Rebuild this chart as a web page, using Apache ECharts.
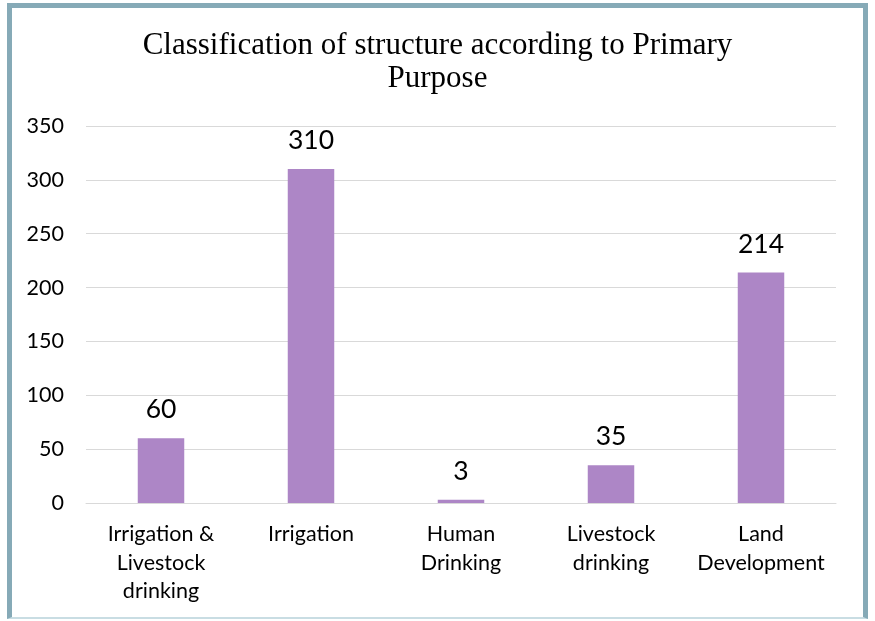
<!DOCTYPE html>
<html><head><meta charset="utf-8">
<script src="https://cdn.jsdelivr.net/npm/echarts@6/dist/echarts.min.js"></script>
<style>
html,body{margin:0;padding:0;background:#fff;}
#frame{position:absolute;left:7px;top:3px;width:851px;height:609px;border:5px solid #86aab7;border-bottom:2px solid #c9dde3;background:#fff;}
#c{position:absolute;left:0;top:0;width:875px;height:621px;}
</style></head><body>
<div id="frame"></div>
<div id="c"></div>
<script>
const categories = ["Irrigation &\nLivestock\ndrinking", "Irrigation", "Human\nDrinking", "Livestock\ndrinking", "Land\nDevelopment"];
const values = [60, 310, 3, 35, 214];
const titleText = "Classification of structure according to Primary\nPurpose";

const chart = echarts.init(document.getElementById('c'), null, {renderer:'canvas'});
chart.setOption({
  backgroundColor: 'transparent',
  animation: false,
  title: {
    text: titleText,
    left: 'center',
    top: 24,
    textStyle: {fontFamily: 'Liberation Serif', fontWeight: 'normal', fontSize: 31, color: '#000', lineHeight: 33}
  },
  grid: {left: 86, right: 39, top: 126, bottom: 118, containLabel: false},
  xAxis: {
    type: 'category',
    data: categories,
    axisLine: {lineStyle: {color: '#d9d9d9', width: 1}},
    axisTick: {show: false},
    axisLabel: {fontFamily: 'Lato', fontSize: 21.5, color: '#000', lineHeight: 28.5, margin: 17, interval: 0}
  },
  yAxis: {
    type: 'value',
    min: 0, max: 350, interval: 50,
    axisLine: {show: false},
    axisTick: {show: false},
    splitLine: {lineStyle: {color: '#d9d9d9', width: 1}},
    axisLabel: {fontFamily: 'Lato', fontSize: 21.5, color: '#000', margin: 22}
  },
  series: [{
    type: 'bar',
    data: values,
    barWidth: '31%',
    itemStyle: {color: '#ad86c6'},
    label: {show: true, position: 'top', distance: 15, fontFamily: 'Lato', fontSize: 26.5, color: '#000'}
  }]
});
</script>
</body></html>
